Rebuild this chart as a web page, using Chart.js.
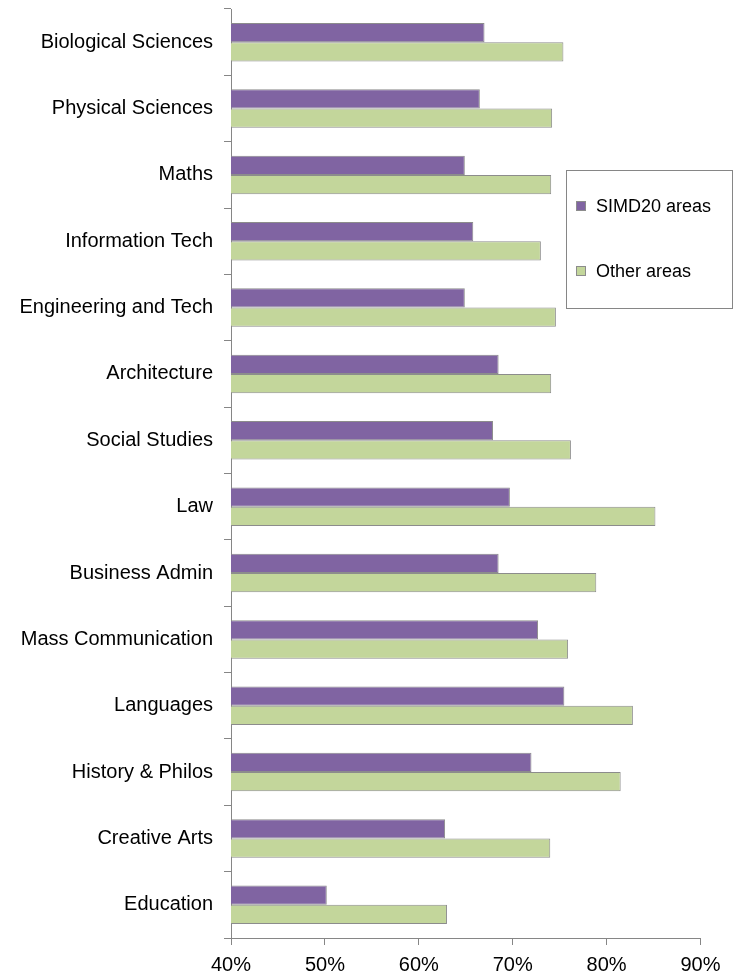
<!DOCTYPE html>
<html>
<head>
<meta charset="utf-8">
<script src="https://cdn.jsdelivr.net/npm/chart.js@4.4.1/dist/chart.umd.min.js"></script>
<style>
  html, body { margin: 0; padding: 0; background: #fff; }
  #wrap { width: 739px; height: 972px; position: relative; }
</style>
</head>
<body>
<div id="wrap"><canvas id="subjectsChart"></canvas></div>
<script>
const subjects = [
  'Biological Sciences', 'Physical Sciences', 'Maths', 'Information Tech',
  'Engineering and Tech', 'Architecture', 'Social Studies', 'Law',
  'Business Admin', 'Mass Communication', 'Languages', 'History & Philos',
  'Creative Arts', 'Education'
];
const simd20Areas = [67.0, 66.5, 64.9, 65.8, 64.9, 68.5, 67.9, 69.7, 68.5, 72.7, 75.5, 72.0, 62.8, 50.2];
const otherAreas = [75.4, 74.2, 74.1, 73.0, 74.6, 74.1, 76.2, 85.2, 78.9, 75.9, 82.8, 81.5, 74.0, 63.0];
const seriesNames = ['SIMD20 areas', 'Other areas'];
const xTicks = [40, 50, 60, 70, 80, 90];

const purple = '#8064A2';
const green = '#C3D69B';
const edge = '#8C8C8C';
const axisGrey = '#868686';
const font = '"Liberation Sans", Arial, sans-serif';

// legend drawn as a boxed panel like the original
const boxLegend = {
  id: 'boxLegend',
  afterDraw(chart) {
    const ctx = chart.ctx;
    ctx.save();
    ctx.strokeStyle = axisGrey;
    ctx.lineWidth = 1;
    ctx.strokeRect(566.5, 170.5, 166, 138);
    const rows = [206, 271];
    chart.data.datasets.forEach((ds, i) => {
      const y = rows[i];
      ctx.fillStyle = ds.backgroundColor;
      ctx.fillRect(576, y - 5, 10, 10);
      ctx.strokeStyle = edge;
      ctx.strokeRect(576.5, y - 4.5, 9, 9);
      ctx.fillStyle = '#000';
      ctx.font = '18px ' + font;
      ctx.textBaseline = 'middle';
      ctx.textAlign = 'left';
      ctx.fillText(ds.label, 596, y + 1);
    });
    ctx.restore();
  }
};

const ctx = document.getElementById('subjectsChart').getContext('2d');
new Chart(ctx, {
  type: 'bar',
  data: {
    labels: subjects,
    datasets: [
      {
        label: seriesNames[0],
        data: simd20Areas,
        backgroundColor: purple,
        borderColor: edge,
        borderWidth: 1,
        categoryPercentage: 0.58,
        barPercentage: 1.0
      },
      {
        label: seriesNames[1],
        data: otherAreas,
        backgroundColor: green,
        borderColor: edge,
        borderWidth: 1,
        categoryPercentage: 0.58,
        barPercentage: 1.0
      }
    ]
  },
  options: {
    indexAxis: 'y',
    responsive: true,
    maintainAspectRatio: false,
    animation: false,
    layout: { padding: { left: 0, right: 38.5, top: 9, bottom: 0 } },
    plugins: {
      legend: { display: false },
      tooltip: { enabled: false }
    },
    scales: {
      x: {
        min: xTicks[0],
        max: xTicks[xTicks.length - 1],
        afterBuildTicks: scale => { scale.ticks = xTicks.map(v => ({ value: v })); },
        afterFit: scale => { scale.height = 34; },
        border: { display: true, color: axisGrey, width: 1 },
        grid: { drawOnChartArea: false, drawTicks: true, tickLength: 7, color: axisGrey },
        ticks: {
          color: '#000',
          padding: 8,
          font: { family: font, size: 20 },
          callback: v => v + '%'
        }
      },
      y: {
        afterFit: scale => {
          scale.width = 231;
          scale.paddingTop = 0;
          scale.paddingBottom = 0;
        },
        border: { display: true, color: axisGrey, width: 1 },
        grid: { drawOnChartArea: false, drawTicks: true, tickLength: 7, color: axisGrey, offset: true },
        ticks: {
          color: '#000',
          padding: 11,
          font: { family: font, size: 20 }
        }
      }
    }
  },
  plugins: [boxLegend]
});
</script>
</body>
</html>
